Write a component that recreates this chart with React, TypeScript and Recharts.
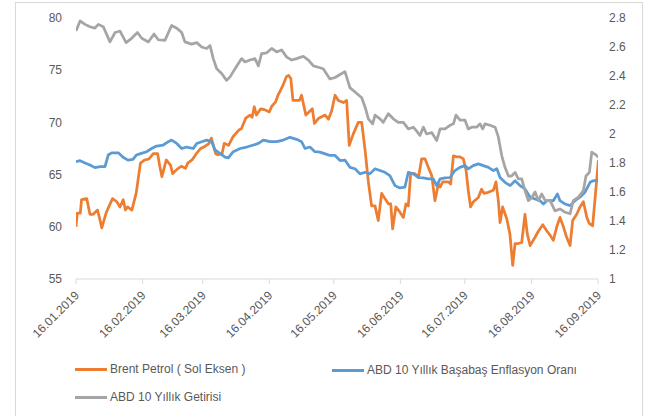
import React from 'react';
import { LineChart, Line, XAxis, YAxis } from 'recharts';

// Tick labels (monthly) on the date axis
const tickDates = [
  '16.01.2019', '16.02.2019', '16.03.2019', '16.04.2019', '16.05.2019',
  '16.06.2019', '16.07.2019', '16.08.2019', '16.09.2019',
];
const leftTicks = [55, 60, 65, 70, 75, 80];
const rightTicks = [1, 1.2, 1.4, 1.6, 1.8, 2, 2.2, 2.4, 2.6, 2.8];

const seriesNames = [
  'Brent Petrol ( Sol Eksen )',
  'ABD 10 Yıllık Başabaş Enflasyon Oranı',
  'ABD 10 Yıllık Getirisi',
];
const seriesColors = ['#ED7D31', '#5B9BD5', '#A5A5A5'];

// [days since 16.01.2019, value]
const brent: [number, number][] = [
  [0, 60.0], [0.6, 61.3], [2, 61.3], [2.6, 62.6], [5, 62.7], [6.5, 61.2], [8, 61.2], [10, 61.6],
  [11, 60.8], [12, 59.9], [14, 61.3], [15, 61.8], [17, 62.7], [19, 62.4], [20.5, 61.9], [22, 62.6],
  [23, 61.6], [24, 61.9], [26, 61.6], [28, 63.2], [30, 66.1], [32, 66.4], [34, 66.5], [36, 67.0],
  [38, 67.0], [39, 65.8], [40, 64.8], [42, 66.4], [44, 65.9], [45, 65.1], [47, 65.5], [49, 65.8],
  [51, 65.6], [52, 66.1], [54, 66.4], [56, 67.0], [58, 67.5], [60, 67.7], [62, 68.0], [63, 68.5],
  [65, 67.0], [66, 66.9], [68, 67.0], [69, 68.0], [71, 67.8], [73, 68.6], [76, 69.3], [77, 69.4],
  [79, 70.4], [81, 70.7], [82, 70.5], [83, 71.5], [84, 70.7], [86, 71.3], [88, 71.2], [90, 71.0],
  [91, 71.5], [93, 72.0], [94, 72.6], [96, 73.4], [98, 74.4], [99, 74.5], [100, 74.2], [101, 72.1],
  [103, 72.1], [104, 72.1], [105, 72.6], [107, 70.7], [108, 70.9], [110, 71.3], [111, 69.9],
  [113, 70.4], [116.0, 70.7], [117.5, 70.3], [119.0, 71.1], [120.6, 72.6], [122.1, 72.1],
  [124.5, 71.9], [126.0, 72.1], [127.2, 67.8], [129.1, 68.9], [131.4, 70.0], [133.0, 70.0],
  [134.6, 67.3], [136.1, 64.3], [137.6, 62.0], [139.2, 62.0], [140.7, 60.6], [142.3, 63.2],
  [143.8, 62.7], [145.4, 62.2], [146.5, 62.2], [147.4, 59.8], [148.9, 61.9], [150.8, 61.4],
  [152.4, 60.9], [153.6, 62.2], [154.7, 62.0], [155.8, 65.1], [157.8, 65.1], [159.4, 64.7],
  [160.9, 66.5], [162.5, 66.5], [164.0, 65.7], [165.6, 64.9], [167.1, 62.5], [168.7, 64.1],
  [169.5, 63.8], [170.7, 64.3], [173.4, 64.3], [174.4, 64.1], [175.7, 66.8], [177.2, 66.7],
  [178.8, 66.7], [180.3, 66.5], [181.6, 65.4], [182.6, 63.5], [183.7, 61.9], [185.0, 62.4],
  [187.3, 62.8], [188.8, 63.6], [189.9, 63.2], [191.9, 63.3], [194.3, 63.5], [195.5, 64.3],
  [196.6, 62.5], [197.4, 60.4], [198.6, 61.9], [200.5, 60.8], [202.0, 59.3], [203.3, 56.3],
  [204.4, 58.4], [205.9, 58.4], [207.5, 58.5], [209.0, 61.2], [210.1, 59.3], [211.4, 58.2],
  [213.7, 59.0], [215.3, 59.6], [217.3, 60.2], [219.2, 59.6], [220.7, 59.2], [222.2, 58.7],
  [223.8, 60.0], [225.3, 60.9], [226.9, 60.0], [228.4, 59.0], [230.0, 58.2], [231.2, 60.6],
  [233.1, 61.2], [234.6, 61.9], [236.2, 62.4], [237.8, 60.9], [239.0, 60.3], [240.5, 60.1],
  [242.1, 63.8], [243.2, 66.4],
];

const breakeven: [number, number][] = [
  [0, 1.809], [1.9, 1.816], [4.2, 1.80], [6.5, 1.786], [8.8, 1.768], [11.2, 1.775], [13.5, 1.775],
  [15.0, 1.855], [16.6, 1.87], [19.7, 1.87], [21.9, 1.84], [24.2, 1.82], [26.5, 1.825],
  [28.1, 1.855], [30.4, 1.866], [32.9, 1.878], [35.2, 1.90], [37.5, 1.917], [40.6, 1.924],
  [43.0, 1.947], [44.5, 1.958], [46.9, 1.935], [49.2, 1.90], [51.5, 1.91], [54.6, 1.90],
  [56.2, 1.935], [58.5, 1.947], [60.8, 1.958], [63.2, 1.947], [64.7, 1.89], [67.0, 1.866],
  [69.4, 1.84], [70.9, 1.835], [73.2, 1.878], [76.4, 1.90], [79.5, 1.91], [82.6, 1.924],
  [84.9, 1.935], [87.2, 1.958], [90.4, 1.947], [93.4, 1.947], [96.5, 1.958], [99.6, 1.977],
  [102.7, 1.963], [105.0, 1.947], [106.6, 1.90], [108.9, 1.91], [111.2, 1.878], [113.6, 1.875],
  [116.0, 1.863], [118.2, 1.852], [120.6, 1.852], [122.9, 1.817], [125.2, 1.82], [127.5, 1.77],
  [129.9, 1.76], [132.2, 1.725], [134.6, 1.736], [136.8, 1.725], [139.2, 1.76], [141.5, 1.748],
  [143.8, 1.736], [146.1, 1.713], [148.5, 1.644], [150.8, 1.628], [153.1, 1.633], [154.7, 1.736],
  [157.0, 1.725], [159.4, 1.70], [161.7, 1.697], [164.0, 1.69], [166.3, 1.69], [167.9, 1.644],
  [169.5, 1.69], [171.8, 1.697], [174.1, 1.70], [176.4, 1.748], [178.7, 1.77], [181.1, 1.782],
  [182.6, 1.76], [184.9, 1.782], [187.3, 1.794], [189.6, 1.782], [192.0, 1.77], [194.3, 1.748],
  [195.9, 1.76], [197.4, 1.70], [199.7, 1.667], [202.1, 1.644], [204.4, 1.678], [206.7, 1.644],
  [209.0, 1.621], [211.4, 1.564], [213.7, 1.552], [216.0, 1.54], [217.6, 1.517], [219.2, 1.54],
  [222.2, 1.54], [224.1, 1.587], [225.3, 1.54], [227.7, 1.517], [230.0, 1.506], [232.3, 1.54],
  [234.6, 1.564], [236.9, 1.598], [239.3, 1.667], [240.8, 1.678], [243.2, 1.678],
];

const yield10: [number, number][] = [
  [0, 2.71], [1.9, 2.78], [4.2, 2.756], [6.5, 2.74], [8.8, 2.73], [10.4, 2.756], [12.7, 2.74],
  [15.8, 2.635], [18.2, 2.70], [20.5, 2.71], [23.3, 2.63], [25.9, 2.66], [28.6, 2.70],
  [30.6, 2.66], [33.7, 2.635], [36.3, 2.69], [38.3, 2.65], [41.4, 2.646], [44.5, 2.748],
  [46.9, 2.73], [49.2, 2.70], [50.7, 2.635], [53.8, 2.62], [56.2, 2.63], [58.5, 2.60],
  [60.8, 2.59], [62.4, 2.61], [63.9, 2.52], [65.5, 2.45], [67.8, 2.417], [70.1, 2.37],
  [71.7, 2.394], [73.2, 2.43], [75.6, 2.486], [77.1, 2.52], [78.7, 2.497], [81.0, 2.51],
  [83.3, 2.52], [84.9, 2.47], [86.4, 2.555], [88.8, 2.56], [91.1, 2.59], [93.4, 2.566],
  [95.7, 2.58], [98.1, 2.53], [100.4, 2.51], [102.7, 2.52], [105.8, 2.536], [108.2, 2.51],
  [110.5, 2.47], [112.8, 2.46], [115.1, 2.45], [118.2, 2.38], [120.6, 2.39], [122.9, 2.41],
  [125.2, 2.43], [127.5, 2.32], [129.9, 2.29], [133.0, 2.25], [134.6, 2.185], [136.1, 2.105],
  [138.1, 2.07], [139.2, 2.13], [141.5, 2.105], [143.0, 2.08], [145.4, 2.14], [147.7, 2.105],
  [150.0, 2.08], [152.4, 2.08], [154.7, 2.035], [157.0, 2.047], [158.6, 2.02], [160.1, 1.99],
  [161.7, 2.047], [163.2, 2.0], [165.6, 2.01], [167.9, 1.955], [169.5, 2.035], [171.8, 2.035],
  [174.1, 2.06], [175.7, 2.07], [176.9, 2.13], [178.8, 2.095], [181.1, 2.095], [182.6, 2.035],
  [184.2, 2.047], [186.5, 2.047], [188.1, 2.07], [189.3, 2.035], [190.4, 2.07], [192.7, 2.06],
  [195.1, 2.047], [196.6, 1.98], [198.2, 1.85], [199.7, 1.77], [201.3, 1.71], [202.8, 1.71],
  [204.4, 1.735], [205.9, 1.69], [207.5, 1.69], [209.0, 1.61], [210.6, 1.54], [212.1, 1.56],
  [213.7, 1.60], [215.3, 1.54], [216.8, 1.587], [218.4, 1.54], [220.7, 1.54], [223.0, 1.47],
  [225.3, 1.483], [227.7, 1.46], [230.0, 1.45], [231.5, 1.54], [233.9, 1.565], [236.2, 1.61],
  [237.4, 1.71], [239.0, 1.735], [240.1, 1.875], [241.7, 1.86], [243.2, 1.84],
];

const FONT = '"Liberation Sans", Arial, sans-serif';
const TEXT = '#595959';

const toDay = (s: string) => {
  const [dd, mm, yy] = s.split('.').map(Number);
  return Math.round((Date.UTC(yy, mm - 1, dd) - Date.UTC(2019, 0, 16)) / 86400000);
};
const xTicks = tickDates.map(toDay);
const labelFor = (d: number) => tickDates[xTicks.indexOf(d)] ?? '';

const toRows = (arr: [number, number][]) => arr.map(([d, v]) => ({ d, v }));

const XTick = (props: any) => {
  const { x, y, payload } = props;
  const px = x + 4;
  const py = y + 12;
  return (
    <text
      x={px}
      y={py}
      textAnchor="end"
      fill={TEXT}
      fontSize={12}
      fontFamily={FONT}
      transform={`rotate(-45, ${px}, ${py})`}
    >
      {labelFor(payload.value)}
    </text>
  );
};

const fmtRight = (v: number) => String(Math.round(v * 10) / 10);

const LegendItem = ({ left, top, color, label }: { left: number; top: number; color: string; label: string }) => (
  <div style={{ position: 'absolute', left, top, display: 'flex', alignItems: 'center', height: 16 }}>
    <div style={{ width: 32, height: 3, background: color, marginRight: 3 }} />
    <span style={{ fontFamily: FONT, fontSize: 12, color: TEXT, whiteSpace: 'nowrap' }}>{label}</span>
  </div>
);

export default function App() {
  return (
    <div style={{ position: 'absolute', left: 0, top: 0, width: 652, height: 416, background: '#fff', overflow: 'hidden' }}>
      <div
        style={{
          position: 'absolute', left: 15, top: 2, width: 628, height: 440,
          border: '1px solid #d9d9d9', boxSizing: 'border-box',
        }}
      />
      <div style={{ position: 'absolute', left: 0, top: 0 }}>
        <LineChart width={652} height={416} margin={{ top: 18, right: 0, left: 0, bottom: 77 }}>
          <XAxis
            dataKey="d"
            type="number"
            domain={[0, 243]}
            ticks={xTicks}
            interval={0}
            allowDataOverflow
            height={60}
            axisLine={{ stroke: '#d9d9d9' }}
            tickLine={{ stroke: '#d9d9d9' }}
            tickSize={5}
            tickMargin={0}
            tick={<XTick />}
          />
          <YAxis
            yAxisId="left"
            orientation="left"
            domain={[55, 80]}
            ticks={leftTicks}
            allowDataOverflow
            width={76}
            axisLine={false}
            tickLine={false}
            tickSize={0}
            tickMargin={14}
            tick={{ fill: TEXT, fontSize: 12, fontFamily: FONT }}
          />
          <YAxis
            yAxisId="right"
            orientation="right"
            domain={[1, 2.8]}
            ticks={rightTicks}
            allowDataOverflow
            width={54}
            axisLine={false}
            tickLine={false}
            tickSize={0}
            tickMargin={11}
            tickFormatter={fmtRight}
            tick={{ fill: TEXT, fontSize: 12, fontFamily: FONT }}
          />
          <Line
            yAxisId="left"
            data={toRows(brent)}
            dataKey="v"
            stroke={seriesColors[0]}
            strokeWidth={2.75}
            strokeLinejoin="round"
            dot={false}
            activeDot={false}
            isAnimationActive={false}
          />
          <Line
            yAxisId="right"
            data={toRows(breakeven)}
            dataKey="v"
            stroke={seriesColors[1]}
            strokeWidth={2.75}
            strokeLinejoin="round"
            dot={false}
            activeDot={false}
            isAnimationActive={false}
          />
          <Line
            yAxisId="right"
            data={toRows(yield10)}
            dataKey="v"
            stroke={seriesColors[2]}
            strokeWidth={2.75}
            strokeLinejoin="round"
            dot={false}
            activeDot={false}
            isAnimationActive={false}
          />
        </LineChart>
      </div>
      <LegendItem left={75} top={361} color={seriesColors[0]} label={seriesNames[0]} />
      <LegendItem left={332} top={362} color={seriesColors[1]} label={seriesNames[1]} />
      <LegendItem left={75} top={389} color={seriesColors[2]} label={seriesNames[2]} />
    </div>
  );
}
